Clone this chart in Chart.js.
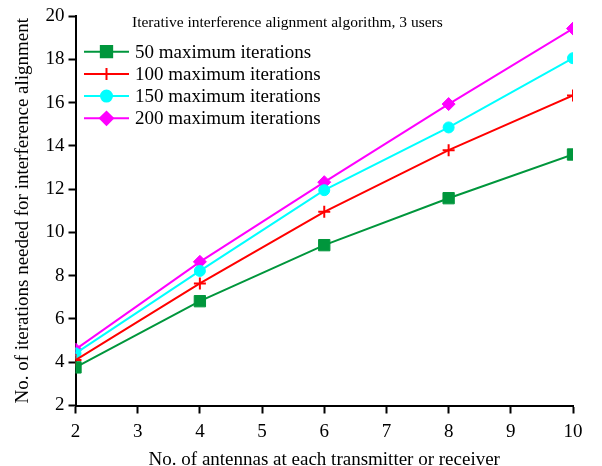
<!DOCTYPE html>
<html>
<head>
<meta charset="utf-8">
<script src="https://cdn.jsdelivr.net/npm/chart.js@4"></script>
<style>
  html, body { margin: 0; padding: 0; background: #fff; }
  #wrap { width: 602px; height: 466px; }
</style>
</head>
<body>
<div id="wrap"><canvas id="grafico" width="602" height="466"></canvas></div>
<script>
// dados
const antenas = [2, 4, 6, 8, 10]
const iter50 = [3.76, 6.82, 9.41, 11.58, 13.6]
const iter100 = [4.1, 7.64, 10.95, 13.8, 16.33]
const iter150 = [4.41, 8.22, 11.95, 14.85, 18.05]
const iter200 = [4.59, 8.64, 12.32, 15.93, 19.42]
const nomes = ["50 maximum iterations", "100 maximum iterations", "150 maximum iterations", "200 maximum iterations"]
const tituloLegenda = "Iterative interference alignment algorithm, 3 users"

const fonte = "Liberation Serif, Times New Roman, serif"

const estilos = [
    { cor: "#00963c", ponto: "rect", raio: 8 },
    { cor: "#ff0000", ponto: "cross", raio: 6 },
    { cor: "#00ffff", ponto: "circle", raio: 5.5 },
    { cor: "#ff00ff", ponto: "rectRot", raio: 6.5 }
]

const series = [iter50, iter100, iter150, iter200]
const datasets = series.map((s, i) => ({
    label: nomes[i],
    data: antenas.map((x, j) => ({ x: x, y: s[j] })),
    borderColor: estilos[i].cor,
    backgroundColor: estilos[i].cor,
    borderWidth: 2,
    pointStyle: estilos[i].ponto,
    pointRadius: estilos[i].raio,
    pointBorderWidth: estilos[i].ponto === "cross" ? 2 : 1,
    pointBorderColor: estilos[i].cor,
    tension: 0
}))

// legenda desenhada dentro da área do gráfico
const legendaInterna = {
    id: "legendaInterna",
    afterDraw(chart) {
        const ctx = chart.ctx
        ctx.save()
        ctx.fillStyle = "#000"
        ctx.textBaseline = "middle"
        ctx.textAlign = "left"
        ctx.font = "15.5px " + fonte
        ctx.fillText(tituloLegenda, 132, 22.5)
        ctx.font = "19px " + fonte
        nomes.forEach((n, i) => {
            const y = 51.7 + i * 22.2
            const e = estilos[i]
            ctx.strokeStyle = e.cor
            ctx.lineWidth = 2
            ctx.beginPath()
            ctx.moveTo(84, y)
            ctx.lineTo(129, y)
            ctx.stroke()
            ctx.fillStyle = e.cor
            Chart.helpers.drawPoint(ctx, {
                pointStyle: e.ponto,
                radius: e.raio,
                borderWidth: e.ponto === "cross" ? 2 : 1,
                rotation: 0
            }, 106.5, y)
            ctx.fillStyle = "#000"
            ctx.fillText(n, 135, y + 1)
        })
        ctx.restore()
    }
}

const ctx = document.getElementById("grafico").getContext("2d")
new Chart(ctx, {
    type: "line",
    data: { datasets: datasets },
    options: {
        responsive: false,
        animation: false,
        layout: { padding: { top: 16, right: 29, left: 0, bottom: -4 } },
        plugins: {
            legend: { display: false },
            tooltip: { enabled: false }
        },
        scales: {
            x: {
                type: "linear",
                min: 2,
                max: 10,
                afterFit: s => { s.height = 64.5 },
                border: { color: "#000", width: 2 },
                grid: { drawOnChartArea: false, tickLength: 8, tickColor: "#000", tickWidth: 2 },
                ticks: { stepSize: 1, color: "#000", padding: 7, font: { family: fonte, size: 19 } },
                title: {
                    display: true,
                    text: "No. of antennas at each transmitter or receiver",
                    color: "#000",
                    font: { family: fonte, size: 19, lineHeight: 1 },
                    padding: { top: 0, bottom: 0 }
                }
            },
            y: {
                min: 2,
                max: 20,
                afterFit: s => { s.width = 75.5 },
                border: { color: "#000", width: 2 },
                grid: { drawOnChartArea: false, tickLength: 7, tickColor: "#000", tickWidth: 2 },
                ticks: { stepSize: 2, color: "#000", padding: 4, font: { family: fonte, size: 19 } },
                title: {
                    display: true,
                    text: "No. of iterations needed for interference alignment",
                    color: "#000",
                    font: { family: fonte, size: 19 },
                    padding: { top: 11.5, bottom: 0 }
                }
            }
        }
    },
    plugins: [legendaInterna]
})
</script>
</body>
</html>
